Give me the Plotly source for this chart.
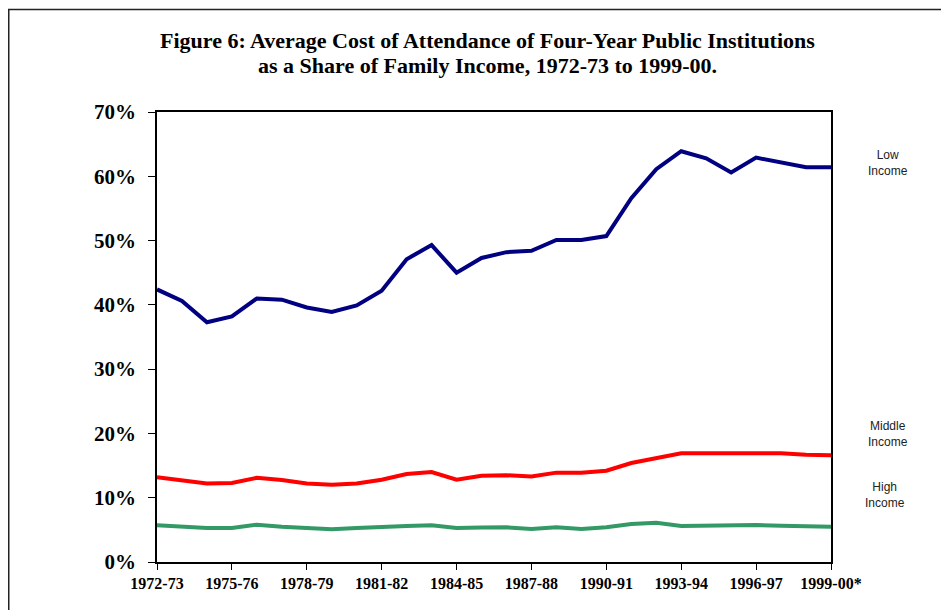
import plotly.graph_objects as go

years = ["1972-73", "1973-74", "1974-75", "1975-76", "1976-77", "1977-78", "1978-79",
         "1979-80", "1980-81", "1981-82", "1982-83", "1983-84", "1984-85", "1985-86",
         "1986-87", "1987-88", "1988-89", "1989-90", "1990-91", "1991-92", "1992-93",
         "1993-94", "1994-95", "1995-96", "1996-97", "1997-98", "1998-99", "1999-00*"]

low_income = [42.4, 40.6, 37.3, 38.2, 41.0, 40.8, 39.6, 38.9, 39.9, 42.2, 47.1, 49.3, 45.0, 47.3,
              48.2, 48.4, 50.1, 50.1, 50.7, 56.6, 61.1, 63.9, 62.8, 60.6, 62.9, 62.2, 61.4, 61.4]
middle_income = [13.2, 12.75, 12.2, 12.3, 13.1, 12.75, 12.2, 12.0, 12.2, 12.8, 13.7, 14.0, 12.8, 13.4,
                 13.5, 13.3, 13.9, 13.9, 14.2, 15.4, 16.1, 16.9, 16.9, 16.9, 16.9, 16.9, 16.7, 16.6]
high_income = [5.7, 5.5, 5.3, 5.3, 5.8, 5.5, 5.3, 5.1, 5.3, 5.5, 5.6, 5.7, 5.3, 5.35,
               5.4, 5.15, 5.4, 5.15, 5.4, 5.9, 6.1, 5.6, 5.65, 5.8, 5.75, 5.65, 5.5, 5.5]

title_lines = ["Figure 6: Average Cost of Attendance of Four-Year Public Institutions",
               "as a Share of Family Income, 1972-73 to 1999-00."]
series_labels = ["Low<br>Income", "Middle<br>Income", "High<br>Income"]

tick_every = 3
y_ticks = [0, 10, 20, 30, 40, 50, 60, 70]
y_ticktext = [f"{v}%" for v in y_ticks]

# page has an 8px body margin; plot area spans page x 157..831, y 112..562
PL, PR, PT, PB = 157, 831, 112, 562
W, H = PR - PL, PB - PT


def px_x(p):
    return (p - PL) / W


def px_y(p):
    return (PB - p) / H


xs = list(range(len(years)))
fig = go.Figure()
for vals, color in [(low_income, "#000080"), (middle_income, "#FF0000"), (high_income, "#339966")]:
    fig.add_trace(go.Scatter(x=xs, y=[v / 100 for v in vals], mode="lines",
                             line=dict(color=color, width=4), showlegend=False,
                             hoverinfo="skip", cliponaxis=False))

fig.update_layout(
    width=941, height=602,
    margin=dict(l=PL - 8, r=941 + 8 - PR, t=PT - 8, b=602 + 8 - PB),
    paper_bgcolor="white", plot_bgcolor="white",
    xaxis=dict(range=[0, len(years) - 1],
               tickvals=xs[::tick_every], ticktext=years[::tick_every],
               showgrid=False, zeroline=False, showline=True, linecolor="black", linewidth=1.5,
               mirror=True, ticks="outside", ticklen=6, tickcolor="black",
               tickfont=dict(family="Liberation Serif", size=16, color="black", weight="bold")),
    yaxis=dict(range=[0, 0.7], tickvals=[v / 100 for v in y_ticks], ticktext=y_ticktext,
               showgrid=False, zeroline=False, showline=True, linecolor="black", linewidth=1.5,
               mirror=True, ticks="outside", ticklen=7, tickcolor="black", ticklabelstandoff=8,
               tickfont=dict(family="Liberation Serif", size=21, color="black", weight="bold")),
    shapes=[dict(type="rect", xref="paper", yref="paper",
                 x0=px_x(8.75), x1=2.0, y0=-1.0, y1=px_y(9.5),
                 line=dict(color="#222222", width=1.5), fillcolor="rgba(0,0,0,0)", layer="below")],
)

for text, py in zip(title_lines, [41, 65]):
    fig.add_annotation(text=text, xref="paper", yref="paper", x=px_x(487), y=px_y(py),
                       xanchor="center", yanchor="middle", showarrow=False,
                       font=dict(family="Liberation Serif", size=22, color="black", weight="bold"))

for text, (px, py) in zip(series_labels, [(888, 163), (888, 434), (885, 495)]):
    fig.add_annotation(text=text, xref="paper", yref="paper",
                       x=px_x(px), y=px_y(py), xanchor="center", yanchor="middle",
                       showarrow=False, align="center",
                       font=dict(family="Liberation Sans", size=12, color="#222222"))

fig.write_html("out.html")
